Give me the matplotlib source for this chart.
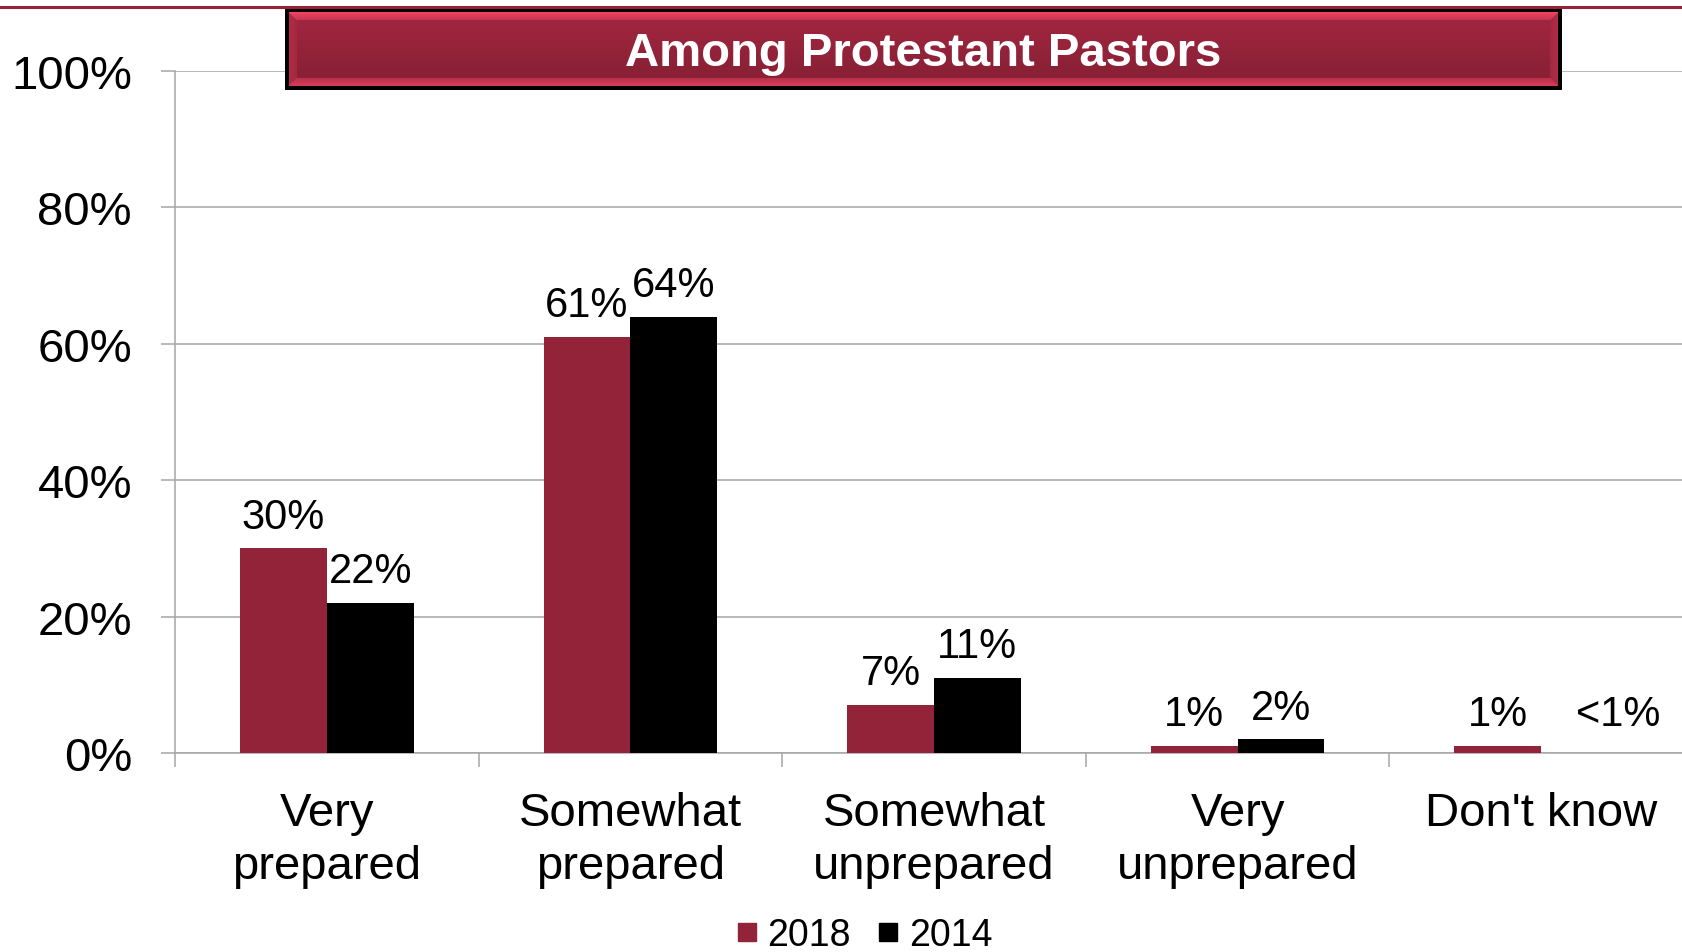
import numpy as np
import matplotlib
matplotlib.use("Agg")
import matplotlib.pyplot as plt
from matplotlib.lines import Line2D

# ---- data ----
categories = ["Very\nprepared", "Somewhat\nprepared", "Somewhat\nunprepared", "Very\nunprepared", "Don't know"]
series_names = ["2018", "2014"]
values_2018 = [30, 61, 7, 1, 1]
values_2014 = [22, 64, 11, 2, 0]
labels_2018 = ["30%", "61%", "7%", "1%", "1%"]
labels_2014 = ["22%", "64%", "11%", "2%", "<1%"]
yticks = [0, 20, 40, 60, 80, 100]
ytick_labels = ["0%", "20%", "40%", "60%", "80%", "100%"]
title = "Among Protestant Pastors"

RED = "#932339"
BLACK = "#000000"
GRID = "#a6a6a6"

plt.rcParams['font.family'] = ['Liberation Sans', 'DejaVu Sans']

W, H = 1682, 953
fig = plt.figure(figsize=(W / 100, H / 100), dpi=100)

# axes placement in pixels
ax_left, ax_right, ax_bottom, ax_top = 175, 1693, 754, 72
ax = fig.add_axes([ax_left / W, 1 - ax_bottom / H, (ax_right - ax_left) / W, (ax_bottom - ax_top) / H])

x = np.arange(len(categories))
bw = 0.286
ax.bar(x - bw / 2, values_2018, width=bw, color=RED, zorder=3)
ax.bar(x + bw / 2, values_2014, width=bw, color=BLACK, zorder=3)

ax.set_xlim(-0.5, len(categories) - 0.5)
ax.set_ylim(0, 100)

# data labels
for i in range(len(categories)):
    for vals, labs, sign in ((values_2018, labels_2018, -1), (values_2014, labels_2014, 1)):
        v = vals[i]
        lab = labs[i]
        anchor = v if v > 0 else 1
        dx = 0 if v > 0 else 24
        ax.annotate(lab, xy=(x[i] + sign * bw / 2, anchor), xytext=(dx, 15),
                    textcoords="offset points", ha="center", va="baseline",
                    fontsize=30, color="black", zorder=4)

# y axis
ax.set_yticks(yticks)
ax.set_yticklabels(ytick_labels)
ax.tick_params(axis='y', length=10, width=1.1, color=GRID, pad=21, labelsize=34)
ax.yaxis.grid(True, color=GRID, linewidth=1.1, zorder=0)
ax.set_axisbelow(True)

# x axis
ax.set_xticks(x)
ax.set_xticklabels(categories, fontsize=34, linespacing=1.27)
ax.tick_params(axis='x', which='major', length=0, pad=27)
ax.set_xticks(np.arange(len(categories) + 1) - 0.5, minor=True)
ax.tick_params(axis='x', which='minor', length=10, width=1.1, color=GRID)

for s in ("top", "right"):
    ax.spines[s].set_visible(False)
for s in ("left", "bottom"):
    ax.spines[s].set_color(GRID)
    ax.spines[s].set_linewidth(1.1)

# legend
handles = [Line2D([], [], marker='s', linestyle='none', markersize=13, color=RED),
           Line2D([], [], marker='s', linestyle='none', markersize=13, color=BLACK)]
fig.legend(handles, series_names, loc='center', bbox_to_anchor=(864 / W, 1 - 936 / H),
           ncol=2, frameon=False, fontsize=27, handlelength=0.6, handletextpad=0.25,
           columnspacing=0.7, borderpad=0, borderaxespad=0)

# top red rule
fig.add_artist(Line2D([0, 1], [1 - 7.5 / H, 1 - 7.5 / H], color=RED, linewidth=2.2,
                      transform=fig.transFigure))

# title banner (bevelled box)
bx0, bx1, by0, by1 = 285, 1562, 9, 91
bW, bH = bx1 - bx0, by1 - by0
img = np.zeros((bH, bW, 3))
border = 4
bev = 8
ii, jj = np.mgrid[0:bH, 0:bW]
dt = ii - border
db = bH - 1 - border - ii
dl = jj - border
dr = bW - 1 - border - jj
inner = (dt >= 0) & (db >= 0) & (dl >= 0) & (dr >= 0)
base = np.array([0x94, 0x23, 0x3a]) / 255
top_c = np.array([0xf0, 0x45, 0x62]) / 255
bot_c = np.array([0xd6, 0x3c, 0x58]) / 255
side_c = np.array([0xb0, 0x2c, 0x46]) / 255
t = np.clip((ii - border) / max(bH - 2 * border, 1), 0, 1)[..., None]
centre = base * (1.0 + 0.08 * np.cos(np.pi * t))
img[inner] = centre[inner]
dmin = np.minimum(np.minimum(dt, db), np.minimum(dl, dr))
inb = inner & (dmin < bev)
frac = (dmin / bev)[..., None]
for mask, col in ((dt == dmin, top_c), (db == dmin, bot_c), ((dl == dmin) | (dr == dmin), side_c)):
    m = inb & mask
    blend = col * (1 - 0.5 * frac) + base * 0.5 * frac
    img[m] = blend[m]
    inb = inb & ~mask
bax = fig.add_axes([bx0 / W, 1 - by1 / H, bW / W, bH / H])
bax.imshow(np.clip(img, 0, 1), aspect='auto', interpolation='nearest')
bax.set_axis_off()
bax.text(0.5, 0.45, title, transform=bax.transAxes, ha='center', va='center',
         fontsize=34, fontweight='bold', color='white')

fig.savefig("out.png", dpi=100)
